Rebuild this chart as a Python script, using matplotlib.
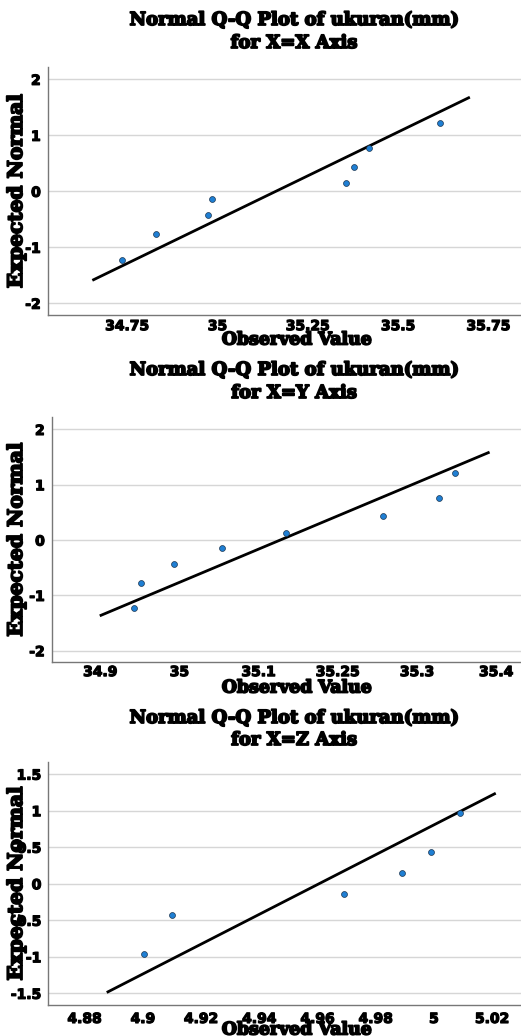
import matplotlib
matplotlib.use("Agg")
import matplotlib.pyplot as plt
import matplotlib.patheffects as pe
from matplotlib.ticker import FixedLocator, FixedFormatter

x_axis_obs = [34.736, 34.829, 34.974, 34.985, 35.357, 35.378, 35.420, 35.616]
x_axis_exp = [-1.22, -0.76, -0.43, -0.14, 0.14, 0.43, 0.77, 1.22]
x_axis_line_x = [34.657, 35.695]
x_axis_line_y = [-1.58, 1.67]
x_axis_xticks = [34.75, 35.0, 35.25, 35.5, 35.75]
x_axis_xlabels = ["34.75", "35", "35.25", "35.5", "35.75"]
x_axis_yticks = [-2, -1, 0, 1, 2]
x_axis_ylabels = ["-2", "-1", "0", "1", "2"]

y_axis_obs = [34.942, 34.952, 34.993, 35.054, 35.135, 35.257, 35.328, 35.348]
y_axis_exp = [-1.22, -0.77, -0.43, -0.145, 0.13, 0.43, 0.76, 1.22]
y_axis_line_x = [34.901, 35.390]
y_axis_line_y = [-1.36, 1.58]
y_axis_xticks = [34.9, 35.0, 35.1, 35.2, 35.3, 35.4]
y_axis_xlabels = ["34.9", "35", "35.1", "35.25", "35.3", "35.4"]
y_axis_yticks = [-2, -1, 0, 1, 2]
y_axis_ylabels = ["-2", "-1", "0", "1", "2"]

z_axis_obs = [4.9005, 4.910, 4.969, 4.989, 4.999, 5.009]
z_axis_exp = [-0.965, -0.43, -0.14, 0.14, 0.43, 0.97]
z_axis_line_x = [4.888, 5.0208]
z_axis_line_y = [-1.48, 1.23]
z_axis_xticks = [4.88, 4.90, 4.92, 4.94, 4.96, 4.98, 5.00, 5.02]
z_axis_xlabels = ["4.88", "4.9", "4.92", "4.94", "4.96", "4.98", "5", "5.02"]
z_axis_yticks = [-1.5, -1, -0.5, 0, 0.5, 1, 1.5]
z_axis_ylabels = ["-1.5", "-1", "-0.5", "0", "0.5", "1", "1.5"]

SERIF = "DejaVu Serif"
SANS = "DejaVu Sans"
W, H = 521, 1036
heavy = [pe.withStroke(linewidth=1.3, foreground="black")]
heavy_small = [pe.withStroke(linewidth=0.9, foreground="black")]


def draw_qq(fig, box, obs, exp, lx, ly, xt, xl, yt, yl, xlim, ylim, subtitle, ys):
    left, bottom, top = box
    title1_y, title2_y, xlab_y, xpad = ys
    ax = fig.add_axes([left / W, 1 - bottom / H, 1 - left / W, (bottom - top) / H])
    ax.set_xlim(xlim)
    ax.set_ylim(ylim)
    for g in yt:
        ax.axhline(g, color="#d6d6d6", lw=1.0, zorder=0)
    ax.plot(lx, ly, color="black", lw=2.0, zorder=2)
    ax.scatter(obs, exp, s=18, color="#1f7fd3", edgecolors="#1a3550",
               linewidths=0.5, zorder=3)
    ax.xaxis.set_major_locator(FixedLocator(xt))
    ax.xaxis.set_major_formatter(FixedFormatter(xl))
    ax.yaxis.set_major_locator(FixedLocator(yt))
    ax.yaxis.set_major_formatter(FixedFormatter(yl))
    ax.tick_params(length=0, labelsize=10)
    ax.tick_params(axis="y", pad=5)
    ax.tick_params(axis="x", pad=xpad)
    for lab in ax.get_xticklabels() + ax.get_yticklabels():
        lab.set_fontfamily(SANS)
        lab.set_fontweight("bold")
        lab.set_path_effects(heavy_small)
    for s in ["top", "right"]:
        ax.spines[s].set_visible(False)
    for s in ["left", "bottom"]:
        ax.spines[s].set_color("#777777")
        ax.spines[s].set_linewidth(1.0)
    ax.set_ylabel("Expected Normal", fontfamily=SERIF, fontweight="bold", fontsize=14.5,
                  path_effects=heavy)
    ax.yaxis.label.set_va("center")
    ax.yaxis.set_label_coords(-(left - 16) / (W - left), 0.5)
    ax.set_xlabel("Observed Value", fontfamily=SERIF, fontweight="bold", fontsize=12.5,
                  path_effects=heavy)
    ax.xaxis.label.set_va("center")
    ax.xaxis.set_label_coords((297 - left) / (W - left), -(xlab_y - bottom) / (bottom - top))
    fig.text(294 / W, 1 - title1_y / H, "Normal Q-Q Plot of ukuran(mm)",
             ha="center", va="center", fontfamily=SERIF, fontweight="bold", fontsize=13,
             path_effects=heavy)
    fig.text(294 / W, 1 - title2_y / H, subtitle,
             ha="center", va="center", fontfamily=SERIF, fontweight="bold", fontsize=13,
             path_effects=heavy)
    return ax


fig = plt.figure(figsize=(W / 100, H / 100), dpi=100)

draw_qq(fig, (47.7, 315, 67), x_axis_obs, x_axis_exp, x_axis_line_x, x_axis_line_y,
        x_axis_xticks, x_axis_xlabels, x_axis_yticks, x_axis_ylabels,
        (34.53, 35.84), (-2.21, 2.22), "for X=X Axis", (20, 43, 340, 3))

draw_qq(fig, (51.7, 662.3, 416.7), y_axis_obs, y_axis_exp, y_axis_line_x, y_axis_line_y,
        y_axis_xticks, y_axis_xlabels, y_axis_yticks, y_axis_ylabels,
        (34.8387, 35.4313), (-2.21, 2.23), "for X=Y Axis", (370, 393, 688, 2))

draw_qq(fig, (48.3, 1005, 761.7), z_axis_obs, z_axis_exp, z_axis_line_x, z_axis_line_y,
        z_axis_xticks, z_axis_xlabels, z_axis_yticks, z_axis_ylabels,
        (4.8675, 5.0299), (-1.66, 1.67), "for X=Z Axis", (718, 740, 1030, 5))

fig.savefig("out.png", dpi=100)
